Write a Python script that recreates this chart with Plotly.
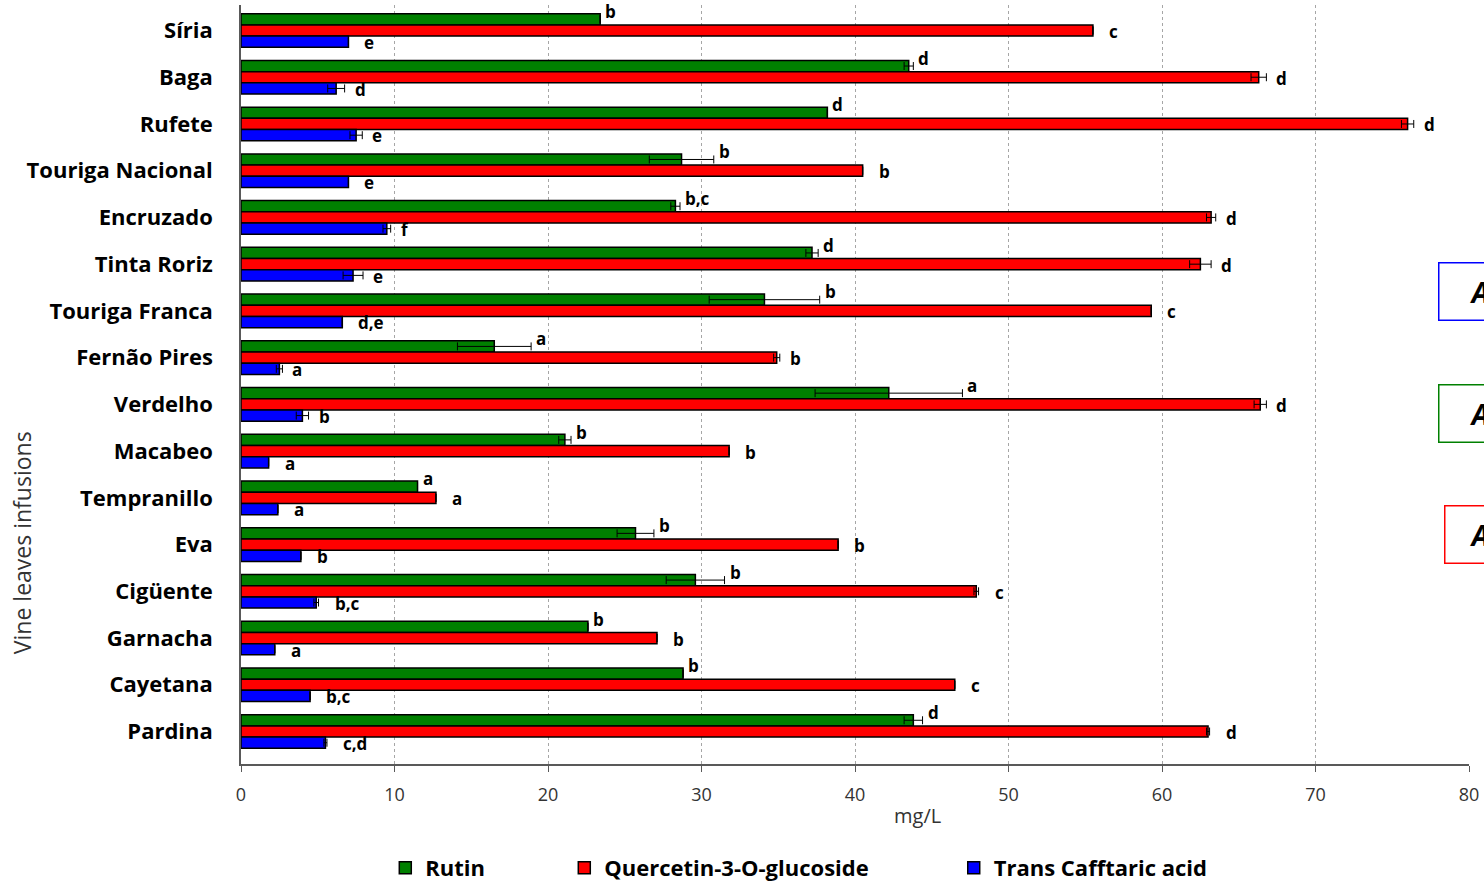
import plotly.graph_objects as go

categories = ["Síria", "Baga", "Rufete", "Touriga Nacional", "Encruzado", "Tinta Roriz",
              "Touriga Franca", "Fernão Pires", "Verdelho", "Macabeo", "Tempranillo", "Eva",
              "Cigüente", "Garnacha", "Cayetana", "Pardina"]

rutin = [23.4, 43.5, 38.2, 28.7, 28.3, 37.2, 34.1, 16.5, 42.2, 21.1, 11.5, 25.7, 29.6, 22.6, 28.8, 43.8]
rutin_err = [0, 0.3, 0, 2.1, 0.3, 0.4, 3.6, 2.4, 4.8, 0.4, 0, 1.2, 1.9, 0, 0, 0.6]
rutin_letters = ["b", "d", "d", "b", "b,c", "d", "b", "a", "a", "b", "a", "b", "b", "b", "b", "d"]

querc = [55.5, 66.3, 76.0, 40.5, 63.2, 62.5, 59.3, 34.9, 66.4, 31.8, 12.7, 38.9, 47.9, 27.1, 46.5, 63.0]
querc_err = [0, 0.5, 0.4, 0, 0.3, 0.7, 0, 0.2, 0.4, 0, 0, 0, 0.15, 0, 0, 0.1]
querc_letters = ["c", "d", "d", "b", "d", "d", "c", "b", "d", "b", "a", "b", "c", "b", "c", "d"]

caff = [7.0, 6.2, 7.5, 7.0, 9.5, 7.3, 6.6, 2.5, 4.0, 1.8, 2.4, 3.9, 4.9, 2.2, 4.5, 5.5]
caff_err = [0, 0.55, 0.4, 0, 0.25, 0.65, 0, 0.2, 0.4, 0, 0, 0, 0.15, 0, 0, 0.1]
caff_letters = ["e", "d", "e", "e", "f", "e", "d,e", "a", "b", "a", "a", "b", "b,c", "a", "b,c", "c,d"]

series_names = ["Rutin", "Quercetin-3-O-glucoside", "Trans Cafftaric acid"]
colors = ["#008000", "#FF0000", "#0000FF"]
box_colors = ["#0000FF", "#008000", "#FF0000"]
box_labels = ["A", "A", "A"]

FONT = "Open Sans"
NB = "\u00a0"

fig = go.Figure()
series = [(rutin, rutin_err, rutin_letters), (querc, querc_err, querc_letters), (caff, caff_err, caff_letters)]
pads = [13, 14, 0]
for i, (vals, errs, letters) in enumerate(series):
    fig.add_trace(go.Bar(
        y=categories, x=vals, orientation="h",
        name=series_names[i] + NB * pads[i],
        marker=dict(color=colors[i], line=dict(color="black", width=1.5)),
        error_x=dict(type="data", array=errs, visible=True, color="black", thickness=1, width=4),
    ))

yshifts = [19, -1, -12]
for i, (vals, errs, letters) in enumerate(series):
    for c, v, e, t in zip(categories, vals, errs, letters):
        if i == 0:
            xs = 3
        else:
            xs = 14 if e < 0.2 else 8
        fig.add_annotation(x=v + e, y=c, text=t, showarrow=False, xanchor="left",
                           yanchor="middle", xshift=xs, yshift=yshifts[i],
                           font=dict(family=FONT, size=17, color="black", weight="bold"))

# Y-axis title and x-axis title
fig.add_annotation(xref="paper", yref="paper", x=-0.1783, y=0.291, text="Vine leaves infusions",
                   textangle=-90, showarrow=False, xanchor="center", yanchor="middle",
                   font=dict(family=FONT, size=23, color="#333333"))
fig.add_annotation(xref="paper", yref="paper", x=0.5505, y=-0.0672, text="mg/L",
                   showarrow=False, xanchor="center", yanchor="middle",
                   font=dict(family=FONT, size=20, color="#333333"))

# Boxes at the right edge (cut by the page edge, as in the reference)
box_y = [0.622, 0.462, 0.303]
box_x = [0.9748, 0.9748, 0.9797]
box_w = [76, 76, 64]
for bx, by, bw, bc, bl in zip(box_x, box_y, box_w, box_colors, box_labels):
    fig.add_annotation(xref="paper", yref="paper", x=bx, y=by, text="<b><i>" + bl + "</i></b>",
                       showarrow=False, xanchor="left", yanchor="middle", width=bw, height=52,
                       align="center", bordercolor=bc, borderwidth=1.5, borderpad=2, bgcolor="white",
                       font=dict(family=FONT, size=28, color="black"))

fig.update_layout(
    width=1484, height=882,
    margin=dict(l=241, r=15, t=5, b=118, autoexpand=False),
    paper_bgcolor="white", plot_bgcolor="white",
    barmode="group", bargap=0.28, bargroupgap=0,
    showlegend=True,
    legend=dict(orientation="h", x=0.1175, y=-0.137, xanchor="left", yanchor="middle",
                font=dict(family=FONT, size=22, color="black", weight="bold"),
                traceorder="normal"),
    xaxis=dict(range=[0, 80], dtick=10, showgrid=True, gridcolor="#a6a6a6", griddash="dot",
               gridwidth=1, showline=True, linecolor="#595959", linewidth=1.5,
               ticks="outside", ticklen=6, tickcolor="#595959", zeroline=False,
               tickfont=dict(family=FONT, size=18, color="#333333"), ticklabelstandoff=8),
    yaxis=dict(autorange="reversed", showline=True, linecolor="#595959", linewidth=1.5,
               showgrid=False, ticks="", ticklabelstandoff=22,
               tickfont=dict(family=FONT, size=22, color="black", weight="bold")),
)

fig.write_html("out.html")
